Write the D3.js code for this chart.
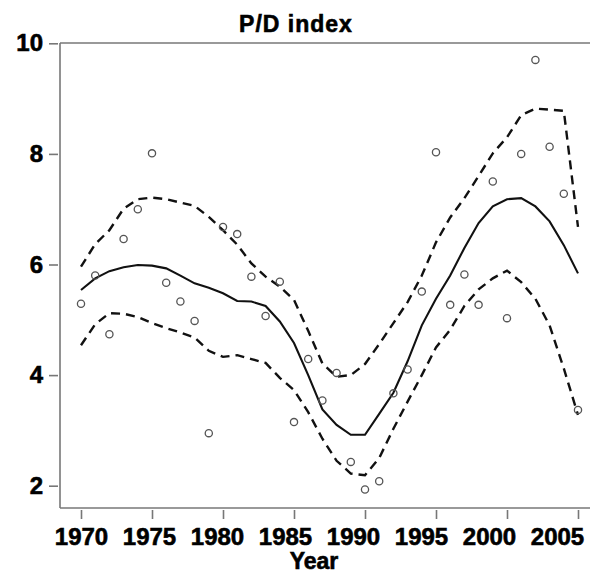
<!DOCTYPE html>
<html>
<head>
<meta charset="utf-8">
<script src="https://cdn.jsdelivr.net/npm/d3@7"></script>
<style>
  html, body { margin: 0; padding: 0; background: #fff; }
  svg { display: block; }
  text { font-family: "Liberation Sans", Arial, sans-serif; font-weight: bold; fill: #000; }
</style>
</head>
<body>
<svg id="chart" width="590" height="574"></svg>
<script>
// ---- data ----
const years = d3.range(1970, 2006);
const pdIndex = [5.29, 5.80, 4.74, 6.46, 7.00, 8.01, 5.67, 5.33, 4.98, 2.95,
                 6.68, 6.55, 5.78, 5.07, 5.69, 3.15, 4.29, 3.54, 4.04, 2.43,
                 1.93, 2.08, 3.67, 4.10, 5.51, 8.03, 5.27, 5.82, 5.27, 7.50,
                 5.03, 8.00, 9.70, 8.13, 7.28, 3.37];
const smoothFit = [5.54, 5.75, 5.88, 5.95, 5.99, 5.98, 5.93, 5.80, 5.66, 5.58,
                   5.48, 5.34, 5.33, 5.25, 4.97, 4.58, 4.00, 3.38, 3.10, 2.92,
                   2.92, 3.30, 3.68, 4.25, 4.90, 5.38, 5.80, 6.30, 6.75, 7.05,
                   7.18, 7.20, 7.05, 6.78, 6.35, 5.84];
const upperBand = [5.96, 6.37, 6.62, 7.01, 7.18, 7.21, 7.18, 7.12, 7.06, 6.86,
                   6.62, 6.36, 6.02, 5.78, 5.60, 5.36, 4.80, 4.21, 3.97, 4.00,
                   4.20, 4.56, 4.94, 5.32, 5.80, 6.40, 6.85, 7.20, 7.60, 8.01,
                   8.30, 8.70, 8.82, 8.80, 8.78, 6.68];
const lowerBand = [4.54, 4.92, 5.12, 5.11, 5.05, 4.94, 4.85, 4.77, 4.68, 4.44,
                   4.33, 4.36, 4.29, 4.22, 3.95, 3.73, 3.33, 2.85, 2.45, 2.22,
                   2.19, 2.50, 3.03, 3.52, 4.00, 4.50, 4.82, 5.25, 5.55, 5.75,
                   5.89, 5.68, 5.38, 4.90, 4.12, 3.28];
const xTicks = [1970, 1975, 1980, 1985, 1990, 1995, 2000, 2005];
const yTicks = [2, 4, 6, 8, 10];
const titleText = "P/D index";
const xLabel = "Year";

// ---- layout ----
const svg = d3.select("#chart");
const plotLeft = 60, plotRight = 590, plotTop = 43, plotBottom = 508;
const x = d3.scaleLinear().domain([1970, 2005]).range([81, 578]);
// tick labels in the reference sit on a slightly tighter spacing than the ticks
const xLab = d3.scaleLinear().domain([1970, 2005]).range([81, 557]);
const y = d3.scaleLinear().domain([2, 10]).range([485.7, 43.3]);
const axisColor = "#777";

// frame: top, left, bottom
svg.append("line").attr("x1", plotLeft).attr("x2", plotRight).attr("y1", plotTop).attr("y2", plotTop)
  .attr("stroke", axisColor).attr("stroke-width", 1.6);
svg.append("line").attr("x1", plotLeft).attr("x2", plotLeft).attr("y1", plotTop).attr("y2", plotBottom)
  .attr("stroke", axisColor).attr("stroke-width", 1.6);
svg.append("line").attr("x1", plotLeft).attr("x2", plotRight).attr("y1", plotBottom).attr("y2", plotBottom)
  .attr("stroke", axisColor).attr("stroke-width", 1.6);

// x axis
const xAxis = d3.axisBottom(x).tickValues(xTicks).tickFormat(d3.format("d"))
  .tickSize(9).tickPadding(9);
const gx = svg.append("g").attr("transform", `translate(0,${plotBottom + 2})`).call(xAxis);
gx.select(".domain").remove();
gx.selectAll(".tick line").attr("stroke", axisColor).attr("stroke-width", 1.6);
gx.selectAll(".tick text")
  .attr("x", d => xLab(d) - x(d))
  .style("font-family", '"Liberation Sans", Arial, sans-serif')
  .style("font-weight", "bold").style("font-size", "24px")
  .attr("fill", "#000").attr("stroke", "#000").attr("stroke-width", 0.6);

// y axis
const yAxis = d3.axisLeft(y).tickValues(yTicks).tickFormat(d3.format("d"))
  .tickSize(9).tickPadding(6);
const gy = svg.append("g").attr("transform", `translate(${plotLeft - 2},0)`).call(yAxis);
gy.select(".domain").remove();
gy.selectAll(".tick line").attr("stroke", axisColor).attr("stroke-width", 1.6);
gy.selectAll(".tick text")
  .style("font-family", '"Liberation Sans", Arial, sans-serif')
  .style("font-weight", "bold").style("font-size", "24px")
  .attr("fill", "#000").attr("stroke", "#000").attr("stroke-width", 0.6);

// title & axis label
svg.append("text").attr("x", 296).attr("y", 32).attr("text-anchor", "middle")
  .style("font-size", "23px").style("letter-spacing", "1px")
  .attr("stroke", "#000").attr("stroke-width", 0.6).text(titleText);
svg.append("text").attr("x", 314).attr("y", 569).attr("text-anchor", "middle")
  .style("font-size", "23px")
  .attr("stroke", "#000").attr("stroke-width", 0.6).text(xLabel);

// lines
const lineGen = vals => d3.line().x((d, i) => x(years[i])).y(d => y(d))(vals);
svg.append("path").attr("d", lineGen(upperBand)).attr("fill", "none")
  .attr("stroke", "#111").attr("stroke-width", 2.4).attr("stroke-dasharray", "9,6");
svg.append("path").attr("d", lineGen(lowerBand)).attr("fill", "none")
  .attr("stroke", "#111").attr("stroke-width", 2.4).attr("stroke-dasharray", "9,6");
svg.append("path").attr("d", lineGen(smoothFit)).attr("fill", "none")
  .attr("stroke", "#111").attr("stroke-width", 2.1);

// points
svg.append("g").selectAll("circle").data(pdIndex).join("circle")
  .attr("cx", (d, i) => x(years[i])).attr("cy", d => y(d)).attr("r", 3.6)
  .attr("fill", "none").attr("stroke", "#555").attr("stroke-width", 1.3);
</script>
</body>
</html>
